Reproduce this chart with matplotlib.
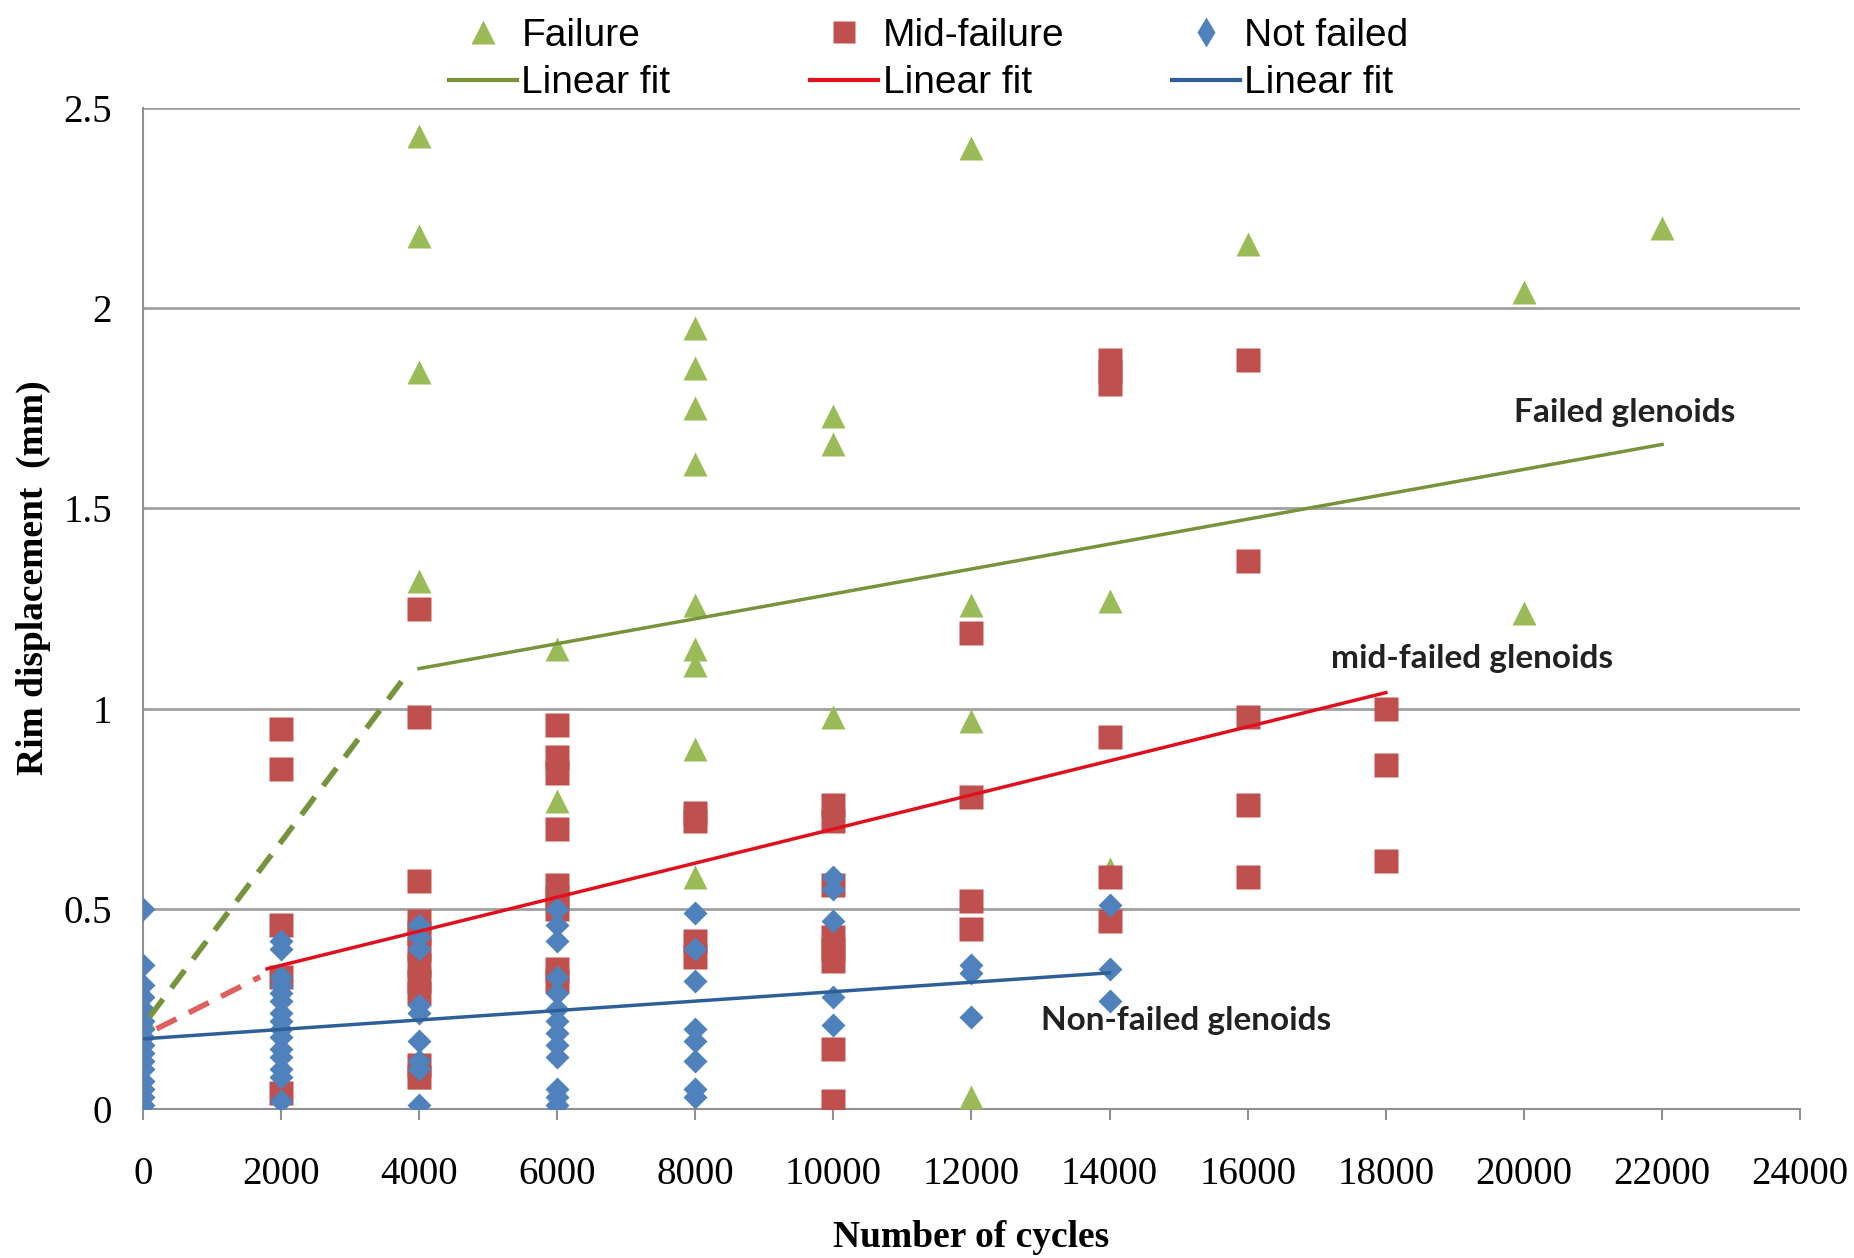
import matplotlib.pyplot as plt
from matplotlib.lines import Line2D

# Failure (green triangles)
fail_x = [0, 4000, 4000, 4000, 4000, 4000, 6000, 6000,
          8000, 8000, 8000, 8000, 8000, 8000, 8000, 8000, 8000,
          10000, 10000, 10000, 12000, 12000, 12000, 12000,
          14000, 14000, 16000, 20000, 20000, 22000]
fail_y = [0.23, 2.43, 2.18, 1.84, 1.32, 0.08, 1.15, 0.77,
          1.95, 1.85, 1.75, 1.61, 1.26, 1.15, 1.11, 0.90, 0.58,
          1.73, 1.66, 0.98, 2.40, 1.26, 0.97, 0.03,
          1.27, 0.60, 2.16, 2.04, 1.24, 2.20]

# Mid-failure (red squares)
mid_x = [2000, 2000, 2000, 2000, 2000,
         4000, 4000, 4000, 4000, 4000, 4000, 4000, 4000, 4000, 4000, 4000,
         6000, 6000, 6000, 6000, 6000, 6000, 6000, 6000, 6000,
         8000, 8000, 8000, 8000,
         10000, 10000, 10000, 10000, 10000, 10000, 10000, 10000,
         12000, 12000, 12000, 12000,
         14000, 14000, 14000, 14000, 14000, 14000,
         16000, 16000, 16000, 16000, 16000,
         18000, 18000, 18000]
mid_y = [0.95, 0.85, 0.46, 0.33, 0.04,
         1.25, 0.98, 0.57, 0.47, 0.44, 0.40, 0.36, 0.32, 0.29, 0.11, 0.08,
         0.96, 0.88, 0.84, 0.70, 0.56, 0.53, 0.50, 0.35, 0.32,
         0.74, 0.72, 0.42, 0.38,
         0.76, 0.72, 0.56, 0.43, 0.40, 0.37, 0.15, 0.02,
         1.19, 0.78, 0.52, 0.45,
         1.87, 1.84, 1.81, 0.93, 0.58, 0.47,
         1.87, 1.37, 0.98, 0.76, 0.58,
         1.00, 0.86, 0.62]

# Not failed (blue diamonds)
ok_x = [0] * 16 + [2000] * 15 + [4000] * 9 + [6000] * 13 + [8000] * 8 + \
       [10000] * 5 + [12000] * 3 + [14000] * 3
ok_y = [0.50, 0.36, 0.31, 0.28, 0.25, 0.22, 0.20, 0.18, 0.16, 0.14, 0.12, 0.10, 0.07, 0.05, 0.03, 0.01,
        0.42, 0.40, 0.33, 0.31, 0.29, 0.27, 0.24, 0.22, 0.20, 0.18, 0.15, 0.13, 0.10, 0.08, 0.02,
        0.46, 0.43, 0.40, 0.26, 0.24, 0.17, 0.12, 0.10, 0.01,
        0.50, 0.46, 0.42, 0.33, 0.29, 0.25, 0.22, 0.19, 0.16, 0.13, 0.05, 0.03, 0.01,
        0.49, 0.40, 0.32, 0.20, 0.17, 0.12, 0.05, 0.03,
        0.58, 0.55, 0.47, 0.28, 0.21,
        0.36, 0.34, 0.23,
        0.51, 0.35, 0.27]

# linear fit end points (solid) and the dashed lead-in segments
fail_fit_x = [4000, 22000]
fail_fit_y = [1.10, 1.66]
fail_dash_x = [100, 3800]
fail_dash_y = [0.23, 1.08]
mid_fit_x = [1800, 18000]
mid_fit_y = [0.35, 1.04]
mid_dash_x = [200, 1700]
mid_dash_y = [0.20, 0.33]
ok_fit_x = [0, 14000]
ok_fit_y = [0.175, 0.34]

c_green = '#9BBB59'
c_red = '#C0504D'
c_blue = '#4F81BD'
f_green = '#77933C'
f_red = '#E0101E'
f_blue = '#2F5F99'

fig = plt.figure(figsize=(18.54, 12.58), dpi=100)
ax = fig.add_axes([0.077, 0.1185, 0.894, 0.7955])

ax.plot(fail_x, fail_y, '^', color=c_green, ms=17, mec='none', zorder=3)
ax.plot(mid_x, mid_y, 's', color=c_red, ms=17, mec='none', zorder=4)
ax.plot(ok_x, ok_y, 'D', color=c_blue, ms=12, mec='none', zorder=5)

ax.plot(fail_fit_x, fail_fit_y, '-', color=f_green, lw=2.5, zorder=6)
ax.plot(fail_dash_x, fail_dash_y, '--', color=f_green, lw=4, dashes=(4, 2.5), zorder=6)
ax.plot(mid_fit_x, mid_fit_y, '-', color=f_red, lw=2.5, zorder=6)
ax.plot(mid_dash_x, mid_dash_y, '--', color='#E06060', lw=4, dashes=(4, 2.5), zorder=6)
ax.plot(ok_fit_x, ok_fit_y, '-', color=f_blue, lw=2.5, zorder=6)

ax.text(19850, 1.74, 'Failed glenoids', fontsize=24, fontweight='bold', family='Lato', color='#222222', va='center')
ax.text(17200, 1.125, 'mid-failed glenoids', fontsize=24, fontweight='bold', family='Lato', color='#222222', va='center')
ax.text(13000, 0.22, 'Non-failed glenoids', fontsize=24, fontweight='bold', family='Lato', color='#222222', va='center')

ax.set_xlim(0, 24000)
ax.set_ylim(0, 2.5)
ax.set_xticks(range(0, 24001, 2000))
ax.set_yticks([0, 0.5, 1, 1.5, 2, 2.5])
ax.set_yticklabels(['0', '0.5', '1', '1.5', '2', '2.5'])
ax.grid(axis='y', color='#A0A0A0', lw=2)
ax.set_axisbelow(True)
for s in ['top', 'right']:
    ax.spines[s].set_visible(False)
for s in ['left', 'bottom']:
    ax.spines[s].set_color('#909090')
    ax.spines[s].set_linewidth(1.5)
ax.tick_params(axis='x', length=8, width=1.5, color='#909090', pad=26)
ax.tick_params(axis='y', length=0, pad=22)
for lb in ax.get_xticklabels() + ax.get_yticklabels():
    lb.set_family('Liberation Serif')
    lb.set_fontsize(28)

ax.set_xlabel('Number of cycles', family='Liberation Serif', fontweight='bold', fontsize=27)
ax.set_ylabel('Rim displacement  (mm)', family='Liberation Serif', fontweight='bold', fontsize=27)
ax.xaxis.set_label_coords(0.5, -0.128)
ax.xaxis.label.set_va('center')
ax.yaxis.set_label_coords(-0.066, 0.531)
ax.yaxis.label.set_va('center')

# one small legend per column, placed like the Excel legend
legend_cols = [
    (0.242, Line2D([], [], ls='none', marker='^', color=c_green, ms=17, mec='none'), 'Failure', f_green),
    (0.437, Line2D([], [], ls='none', marker='s', color=c_red, ms=16, mec='none'), 'Mid-failure', f_red),
    (0.632, Line2D([], [], ls='none', marker='d', color=c_blue, ms=15, mec='none'), 'Not failed', f_blue),
]
for xpos, mk, name, lc in legend_cols:
    fig.legend([mk, Line2D([], [], color=lc, lw=3)], [name, 'Linear fit'],
               loc='upper left', bbox_to_anchor=(xpos, 0.986), frameon=False,
               prop={'family': 'Liberation Sans', 'size': 28},
               handlelength=1.75, handletextpad=0.12, labelspacing=0.3,
               borderpad=0, borderaxespad=0)

fig.savefig('out.png', dpi=100)
